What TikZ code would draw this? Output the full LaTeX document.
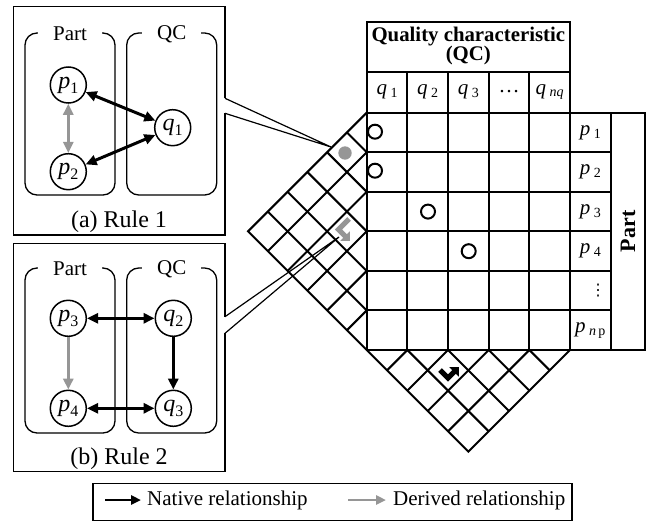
\documentclass[tikz,border=0pt]{standalone}
\usepackage{fontspec}
\setmainfont{Liberation Serif}
\newfontfamily\symfont{DejaVu Sans}
\usetikzlibrary{arrows.meta}
\definecolor{relgray}{RGB}{150,150,150}
\newcommand\vl[2]{\textit{#1}\raisebox{-.45ex}{\fontsize{16}{16}\selectfont#2}}
\newcommand\hl[2]{\textit{#1}\,\raisebox{-.3ex}{\fontsize{14}{14}\selectfont#2}}
\begin{document}
\begin{tikzpicture}[x=1pt,y=-1pt,>={Triangle[length=11pt,width=10pt]},
  boxline/.style={line width=1.3pt},
  gridline/.style={line width=2pt},
  cont/.style={line width=1.3pt,rounded corners=12pt},
  contlab/.style={fill=white,inner xsep=15pt,font=\fontsize{21}{24}\selectfont},
  vtx/.style={circle,draw,line width=1.5pt,minimum size=36pt,inner sep=0pt,font=\fontsize{24}{26}\selectfont},
  native/.style={line width=3pt},
  derived/.style={line width=3pt,relgray},
  txt/.style={font=\fontsize{21}{24}\selectfont,inner sep=0pt},
  hit/.style={line width=2pt}]
\useasboundingbox (0,0) rectangle (650,522);
% rule 1
\draw[boxline] (225,98.3) -- (225,6.7) -| (13.3,235) -| (225,113.3);
\node[font=\fontsize{24}{26}\selectfont] (capA) at (119,222) {(a) Rule 1};
\draw[cont] (25,33) rectangle (115,195) (126.7,33) rectangle (216.7,195);
\node[contlab] (partA) at (70,34) {Part};
\node[contlab] (qcA) at (171.7,34) {QC};
\node[vtx] (p1) at (68.3,85) {\vl p1};
\node[vtx] (p2) at (68.3,171.7) {\vl p2};
\node[vtx] (q1) at (172.7,127.7) {\vl q1};
\draw[native,<->] (p1) -- (q1);
\draw[native,<->] (p2) -- (q1);
\draw[derived,<->] (p1) -- (p2);
% rule 2
\draw[boxline] (225,316.7) -- (225,243.3) -| (13.3,471.7) -| (225,333.3);
\node[font=\fontsize{24}{26}\selectfont] (capB) at (119,459) {(b) Rule 2};
\draw[cont] (25,268) rectangle (115,433) (126.7,268) rectangle (216.7,433);
\node[contlab] (partB) at (70,269) {Part};
\node[contlab] (qcB) at (171.7,269) {QC};
\node[vtx] (p3) at (68.3,318.3) {\vl p3};
\node[vtx] (q2) at (173.3,318.3) {\vl q2};
\node[vtx] (p4) at (68.3,408.3) {\vl p4};
\node[vtx] (q3) at (173.3,408.3) {\vl q3};
\draw[native,<->] (p3) -- (q2);
\draw[native,->] (q2) -- (q3);
\draw[native,<->] (p4) -- (q3);
\draw[derived,->] (p3) -- (p4);
% matrix
\draw[gridline] (366.7,21.7) rectangle (570,112.7) (366.7,71.7) -- (570,71.7);
\draw[gridline] (366.7,112.7) rectangle (645,350) (570,112.7) -- (570,350) (610.7,112.7) -- (610.7,350);
\foreach \i in {1,...,4}
  \draw[gridline] ({366.7+\i*40.66},71.7) -- ({366.7+\i*40.66},350);
\foreach \k in {1,...,5}
  \draw[gridline] (366.7,{112.7+\k*39.55}) -- (610.7,{112.7+\k*39.55});
\draw[gridline] (366.7,112.7) -- (248.05,231.35) -- (366.7,350) -- (468.35,451.65) -- (570,350);
\foreach \k in {1,...,5}
  \draw[gridline] ({366.7-\k*19.775},{112.7+\k*19.775}) -- (366.7,{112.7+\k*39.55})
    -- ({366.7-(6-\k)*19.775},{112.7+\k*39.55+(6-\k)*19.775});
\foreach \k in {1,...,4}
  \draw[gridline] ({366.7+\k*20.33},{350+\k*20.33}) -- ({366.7+\k*40.66},350)
    -- ({366.7+\k*40.66+(5-\k)*20.33},{350+(5-\k)*20.33});
\node[font=\fontsize{20.8}{18.5}\selectfont\bfseries,align=center] (qchead) at (468.3,46) {Quality characteristic\\(QC)};
\node[font=\fontsize{22}{24}\selectfont\bfseries,rotate=90] (parthead) at (628,231.35) {Part};
\foreach \j/\t in {1/\hl q1,2/\hl q2,3/\hl q3,4/\dots,5/\hl q{\textit{nq}}}
  \node[txt] (qh\j) at ({346.37+\j*40.66},92) {\t};
\foreach \k/\t in {1/\hl p1,2/\hl p2,3/\hl p3,4/\hl p4,6/\hl p{\textit{n}\,p}}
  \node[txt] (ph\k) at (590.3,{92.9+\k*39.55}) {\t};
\node[font=\symfont\fontsize{16}{16}\selectfont,inner sep=0pt] (ph5) at (598,291) {⋮};
\draw[hit] (375,131.7) circle (7pt) (375,170.7) circle (7pt) (428,211.6) circle (7pt) (468.7,251.2) circle (7pt);
\fill[relgray] (345,153) circle (6.7pt);
\draw[relgray,line width=5pt,-{Triangle[length=7pt,width=13pt]}] (349,219) -- (338.5,229.5) -- (350,241);
\draw[line width=5pt,-{Triangle[length=7pt,width=13pt]}] (440,370) -- (448,378) -- (459,367);
% callouts
\coordinate (tipA) at (331,147);
\coordinate (tipB) at (339,237);
\draw[line width=1.2pt] (225,98.3) -- (tipA) -- (225,113.3);
\draw[line width=1.2pt] (225,316.7) -- (tipB) -- (225,333.3);
% legend
\draw[boxline] (93,483.3) rectangle (572,520.5);
\coordinate (nA) at (105,500);
\coordinate (nB) at (141,500);
\coordinate (dA) at (348,500);
\coordinate (dB) at (386,500);
\draw[line width=2.5pt,-{Triangle[length=10pt,width=9pt]}] (nA) -- (nB);
\draw[line width=2.5pt,relgray,-{Triangle[length=10pt,width=9pt]}] (dA) -- (dB);
\node[txt,anchor=west] (natxt) at (147,500) {Native relationship};
\node[txt,anchor=west] (dertxt) at (393,500) {Derived relationship};
\end{tikzpicture}
\end{document}
